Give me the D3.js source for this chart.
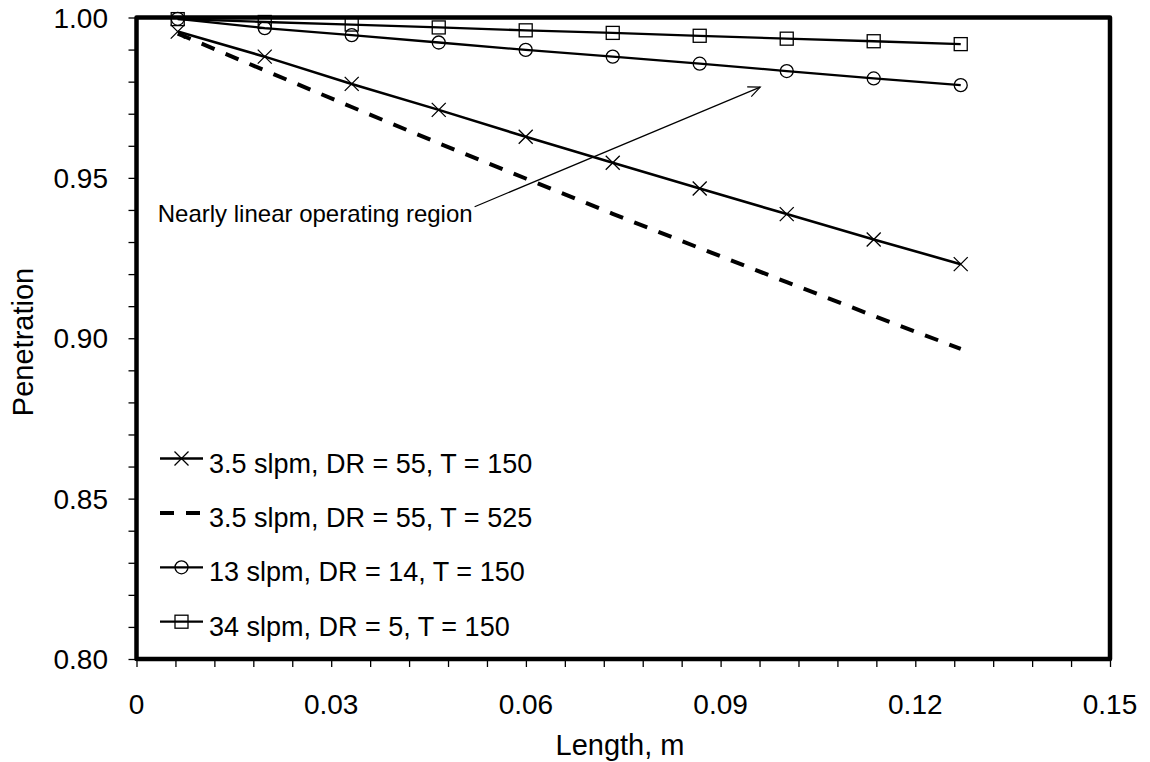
<!DOCTYPE html>
<html>
<head>
<meta charset="utf-8">
<script src="https://cdn.jsdelivr.net/npm/d3@7"></script>
<style>
  html, body { margin: 0; padding: 0; background: #fff; }
  svg { display: block; font-family: "Liberation Sans", Arial, sans-serif; }
</style>
</head>
<body>
<svg id="chart" width="1150" height="762"></svg>
<script>
// Tube length (m) at each computed point
const lengths = [0.00635, 0.01976, 0.03316, 0.04657, 0.05997, 0.07338, 0.08678, 0.10019, 0.11359, 0.127];

// Penetration for each operating condition
const pen35T150 = [0.9956, 0.9878, 0.9793, 0.9712, 0.9628, 0.9547, 0.9467, 0.9387, 0.9308, 0.9231];
const pen35T525 = [0.9950, 0.9835, 0.9721, 0.9608, 0.9498, 0.9388, 0.9281, 0.9175, 0.9070, 0.8967];
const pen13T150 = [0.9996, 0.9967, 0.9945, 0.9922, 0.9899, 0.9878, 0.9856, 0.9833, 0.9810, 0.9789];
const pen34T150 = [0.9995, 0.9986, 0.9978, 0.9969, 0.9960, 0.9952, 0.9943, 0.9934, 0.9926, 0.9917];

const seriesNames = [
  "3.5 slpm, DR = 55, T = 150",
  "3.5 slpm, DR = 55, T = 525",
  "13 slpm, DR = 14, T = 150",
  "34 slpm, DR = 5, T = 150"
];

// Axis ticks
const xTickValues = [0, 0.03, 0.06, 0.09, 0.12, 0.15];
const xTickLabels = ["0", "0.03", "0.06", "0.09", "0.12", "0.15"];
const yTickValues = [0.80, 0.85, 0.90, 0.95, 1.00];
const yTickLabels = ["0.80", "0.85", "0.90", "0.95", "1.00"];

// Annotation: text and arrow from its end to the tip
const noteText = "Nearly linear operating region";
const noteArrow = [[0.0521, 0.9410], [0.0961, 0.9783]];

const svg = d3.select("#chart");
const x = d3.scaleLinear().domain([0, 0.15]).range([136.5, 1110]);
const y = d3.scaleLinear().domain([0.80, 1.00]).range([659, 17.5]);

// Minor ticks: five per major x interval, one per 0.01 on y
const xMinor = d3.range(0, 26).map(i => +(i * 0.006).toFixed(3));
const yMinor = d3.range(0, 21).map(i => +(0.80 + i * 0.01).toFixed(2));

const xAxis = svg.append("g").attr("transform", `translate(0,${y(0.80)})`)
  .call(d3.axisBottom(x).tickValues(xMinor).tickSize(8).tickFormat(""));
const yAxis = svg.append("g").attr("transform", `translate(${x(0)},0)`)
  .call(d3.axisLeft(y).tickValues(yMinor).tickSize(8).tickFormat(""));
[xAxis, yAxis].forEach(g => {
  g.select(".domain").remove();
  g.selectAll(".tick line").attr("stroke", "#000").attr("stroke-width", 1.3);
});

// Tick labels
svg.append("g").selectAll("text").data(xTickValues).join("text")
  .attr("x", d => x(d)).attr("y", 714)
  .attr("text-anchor", "middle").attr("font-size", 28).attr("fill", "#000")
  .text((d, i) => xTickLabels[i]);
svg.append("g").selectAll("text").data(yTickValues).join("text")
  .attr("x", 108).attr("y", d => y(d) + 10)
  .attr("text-anchor", "end").attr("font-size", 28).attr("fill", "#000")
  .text((d, i) => yTickLabels[i]);

// Axis titles
svg.append("text").attr("x", 620).attr("y", 755)
  .attr("text-anchor", "middle").attr("font-size", 29).text("Length, m");
svg.append("text").attr("transform", "translate(33,342) rotate(-90)")
  .attr("text-anchor", "middle").attr("font-size", 29).text("Penetration");

// Plot frame
svg.append("rect")
  .attr("x", x(0)).attr("y", y(1.00))
  .attr("width", x(0.15) - x(0)).attr("height", y(0.80) - y(1.00))
  .attr("fill", "none").attr("stroke", "#000").attr("stroke-width", 4.5)
  .attr("stroke-linejoin", "round");

// Marker shapes
function drawMarker(g, kind, cx, cy) {
  if (kind === "cross") {
    const s = 7;
    g.append("path").attr("d", `M${cx - s},${cy - s}L${cx + s},${cy + s}M${cx - s},${cy + s}L${cx + s},${cy - s}`)
      .attr("stroke", "#000").attr("stroke-width", 1.3).attr("fill", "none");
  } else if (kind === "circle") {
    g.append("circle").attr("cx", cx).attr("cy", cy).attr("r", 6.5)
      .attr("stroke", "#000").attr("stroke-width", 1.3).attr("fill", "none");
  } else if (kind === "square") {
    g.append("rect").attr("x", cx - 6.5).attr("y", cy - 6.5).attr("width", 13).attr("height", 13)
      .attr("stroke", "#000").attr("stroke-width", 1.3).attr("fill", "none");
  }
}

const series = [
  { values: pen35T150, marker: "cross", width: 2.6, dash: null },
  { values: pen35T525, marker: null, width: 4, dash: "14,12" },
  { values: pen13T150, marker: "circle", width: 2.3, dash: null },
  { values: pen34T150, marker: "square", width: 2.3, dash: null }
];

const line = d3.line().x(d => x(d[0])).y(d => y(d[1]));
const plot = svg.append("g");
series.forEach(s => {
  const pts = lengths.map((l, i) => [l, s.values[i]]);
  plot.append("path").datum(pts).attr("d", line)
    .attr("fill", "none").attr("stroke", "#000").attr("stroke-width", s.width)
    .attr("stroke-dasharray", s.dash);
  if (s.marker) pts.forEach(p => drawMarker(plot, s.marker, x(p[0]), y(p[1])));
});

// Annotation
const a0 = [x(noteArrow[0][0]), y(noteArrow[0][1])];
const a1 = [x(noteArrow[1][0]), y(noteArrow[1][1])];
svg.append("text").attr("x", a0[0] - 2).attr("y", 222)
  .attr("text-anchor", "end").attr("font-size", 24).text(noteText);
svg.append("line").attr("x1", a0[0]).attr("y1", a0[1]).attr("x2", a1[0]).attr("y2", a1[1])
  .attr("stroke", "#000").attr("stroke-width", 1.2);
const ang = Math.atan2(a1[1] - a0[1], a1[0] - a0[0]);
const hl = 13, ha = 0.42;
const head = [ang + Math.PI - ha, ang + Math.PI + ha].map(t => [a1[0] + hl * Math.cos(t), a1[1] + hl * Math.sin(t)]);
svg.append("path")
  .attr("d", `M${head[0][0]},${head[0][1]}L${a1[0]},${a1[1]}L${head[1][0]},${head[1][1]}`)
  .attr("fill", "none").attr("stroke", "#000").attr("stroke-width", 1.2);

// Legend
const legend = svg.append("g");
const legY0 = 458.5, legStep = 54.4;
series.forEach((s, i) => {
  const ly = legY0 + i * legStep;
  legend.append("line").attr("x1", 160).attr("x2", 203).attr("y1", ly).attr("y2", ly)
    .attr("stroke", "#000").attr("stroke-width", s.width).attr("stroke-dasharray", s.dash);
  if (s.marker) drawMarker(legend, s.marker, 181.5, ly);
  legend.append("text").attr("x", 209).attr("y", ly + 14)
    .attr("font-size", 27).text(seriesNames[i]);
});
</script>
</body>
</html>
